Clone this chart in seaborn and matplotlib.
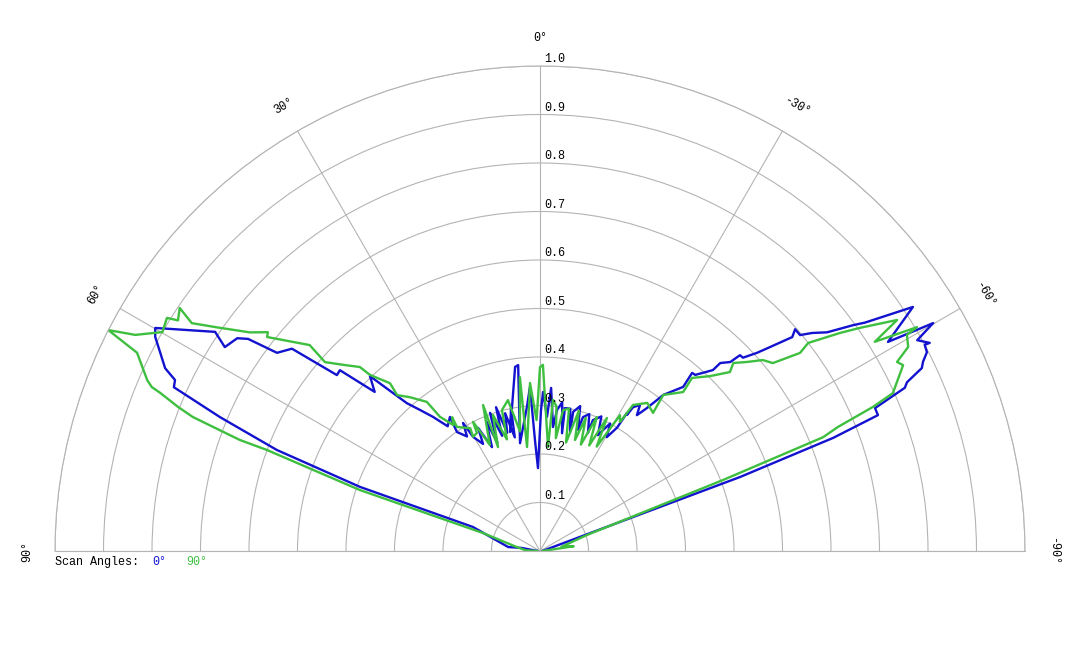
import numpy as np
import pandas as pd
import matplotlib
matplotlib.use("Agg")
import matplotlib.pyplot as plt
import matplotlib.transforms as mtransforms
import seaborn as sns

# beam pattern, angle in degrees (0 = boresight, positive to the left), normalised amplitude
blue_deg = [-89, -69.7, -68.9, -68.1, -66.9, -65.9, -65.3, -64.4, -63.7, -62.8, -61.8, -61.9,
            -60.8, -59.9, -59.0, -56.8, -54.9, -54.2, -52.7, -51.3, -50.3, -49.0, -49.7, -48.3,
            -47.6, -46.4, -45.6, -45.2, -43.8, -43.7, -41.4, -40.5, -41.1, -38.3, -36.8, -35.5,
            -34.4, -32.9, -32.6, -32.2, -32.0, -30.4, -28.8, -27.5, -26.6, -24.5, -22.0, -22.1,
            -19.8, -17.8, -17.4, -15.5, -13.4, -14.2, -12, -9.9, -10.6, -8.5, -6.9, -6.0, -3.9,
            -3.0, -1.1, -0.4, 1.4, 2.6, 3.5, 5.2, 10.5, 6.7, 7.7, 14.1, 11.5, 12.5, 14.2, 15.5,
            17.0, 18.2, 19.9, 21.5, 22.5, 24.8, 26.7, 28.0, 30.4, 31.0, 32.5, 34.9, 33.9, 36.5,
            38.6, 40.4, 42.0, 44.2, 46.1, 47.9, 49.1, 50.8, 53.0, 54.0, 54.9, 57.1, 56.0, 58.9,
            59.9, 60.9, 64.0, 64.9, 65.9, 67.3, 69.0, 70.4, 70.3, 82.9, 80.5, 89.5]
blue_amp = [0.005, 0.44, 0.648, 0.751, 0.751, 0.824, 0.833, 0.873, 0.881, 0.897, 0.900, 0.911,
            0.891, 0.937, 0.837, 0.919, 0.819, 0.796, 0.744, 0.719, 0.697, 0.697, 0.682, 0.629,
            0.606, 0.578, 0.577, 0.553, 0.537, 0.516, 0.484, 0.483, 0.449, 0.410, 0.368, 0.344,
            0.365, 0.353, 0.333, 0.336, 0.300, 0.272, 0.300, 0.281, 0.267, 0.305, 0.291, 0.263,
            0.300, 0.290, 0.262, 0.310, 0.295, 0.253, 0.300, 0.299, 0.247, 0.310, 0.293, 0.257, 0.337,
            0.277, 0.328, 0.290, 0.171, 0.229, 0.339, 0.298, 0.226, 0.386, 0.383, 0.253, 0.300, 0.240,
            0.293, 0.253, 0.310, 0.250, 0.303, 0.240, 0.290, 0.236, 0.284, 0.250, 0.273, 0.308,
            0.280, 0.299, 0.333, 0.320, 0.354, 0.382, 0.410, 0.503, 0.473, 0.556, 0.554, 0.660,
            0.679, 0.744, 0.763, 0.774, 0.808, 0.886, 0.917, 0.908, 0.860, 0.831, 0.827, 0.715,
            0.581, 0.394, 0.147, 0.066, 0.038, 0.005]

green_deg = [-89.5, -82, -79, -71.2, -68.8, -68.1, -67.4, -66.6, -65.9, -62.9, -62.1, -61.0,
             -59.5, -59.3, -58.0, -57.1, -55.1, -54.0, -52.2, -52.7, -51.1, -49.4, -47.6, -45.8,
             -46.7, -44.2, -41.3, -42.0, -38.3, -39.3, -35.9, -32.5, -31.8, -30.5, -28.5, -26.7,
             -25, -23, -21, -19, -17.5, -15.5, -13.5, -11.5, -9.3, -8.0, -6.5, -4.9, -4.4, -0.9,
             0.0, 1.5, 3.4, 7.1, 6.6, 9.5, 12.0, 15.1, 16.5, 19.1, 22.0, 21.3, 25.3, 27.4, 28.1,
             30.4, 29.6, 33.8, 33.3, 34.5, 36.7, 37.2, 40.2, 42.5, 41.8, 44.0, 44.4, 46.4, 48.7,
             48.2, 51.9, 51.2, 53.0, 55.3, 56.8, 56.0, 57.5, 58.0, 59.9, 61.9, 62.9, 63.8, 66.5,
             67.1, 67.4, 68.3, 68.9, 69.7, 69.7, 71.3, 72.5, 80, 87, 89.5]
green_amp = [0.005, 0.07, 0.045, 0.102, 0.405, 0.629, 0.665, 0.748, 0.797, 0.841, 0.833, 0.868,
             0.878, 0.904, 0.814, 0.877, 0.804, 0.765, 0.700, 0.674, 0.617, 0.605, 0.578, 0.556,
             0.538, 0.503, 0.475, 0.441, 0.410, 0.368, 0.377, 0.357, 0.313, 0.325, 0.245, 0.307,
             0.240, 0.300, 0.235, 0.290, 0.240, 0.300, 0.230, 0.300, 0.294, 0.235, 0.300, 0.313,
             0.215, 0.384, 0.379, 0.270, 0.347, 0.216, 0.361, 0.250, 0.318, 0.301, 0.240, 0.297,
             0.231, 0.323, 0.242, 0.300, 0.276, 0.273, 0.291, 0.308, 0.330, 0.315, 0.345, 0.386,
             0.415, 0.436, 0.464, 0.505, 0.531, 0.556, 0.590, 0.637, 0.715, 0.720, 0.749, 0.810,
             0.858, 0.896, 0.885, 0.907, 0.900, 0.946, 1.000, 0.926, 0.883, 0.869, 0.848, 0.803,
             0.767, 0.660, 0.600, 0.392, 0.123, 0.050, 0.030, 0.005]

scan_names = ["0°", "90°"]
scan_colors = ["#1212cf", "#3fbf3f"]
ring_values = [0.1, 0.2, 0.3, 0.4, 0.5, 0.6, 0.7, 0.8, 0.9, 1.0]
ring_labels = ["0.1", "0.2", "0.3", "0.4", "0.5", "0.6", "0.7", "0.8", "0.9", "1.0"]
angle_ticks = [-90, -60, -30, 0, 30, 60, 90]
angle_labels = ["-90°", "-60°", "-30°", "0°", "30°", "60°", "90°"]

df = pd.concat([
    pd.DataFrame({"deg": blue_deg, "amp": blue_amp, "scan": scan_names[0]}),
    pd.DataFrame({"deg": green_deg, "amp": green_amp, "scan": scan_names[1]}),
], ignore_index=True)
df["theta"] = np.deg2rad(df["deg"])

sns.set_theme(style="white")
plt.rcParams["font.family"] = ["Liberation Mono", "DejaVu Sans Mono"]

W, H = 1080, 648
cx, cy, R = 540, 551, 485  # centre and radius of the half disc, in pixels from top-left

fig = plt.figure(figsize=(W / 100, H / 100), dpi=100)
# the half wedge sits in the middle of a square box, so the box is 2R on a side
side = 2 * R
ax = fig.add_axes([(cx - R) / W, (H - cy - R / 2) / H, side / W, side / H], projection="polar")

sns.lineplot(data=df, x="theta", y="amp", hue="scan", hue_order=scan_names,
             palette=scan_colors, sort=False, estimator=None, legend=False,
             linewidth=1.7, ax=ax)

ax.set_theta_zero_location("N")
ax.set_theta_direction(1)
ax.set_thetamin(-90)
ax.set_thetamax(90)
ax.set_ylim(0, 1)
ax.set_xlabel("")
ax.set_ylabel("")

grid_col = "#b4b4b4"
ax.set_xticks(np.deg2rad(angle_ticks))
ax.set_xticklabels([])
ax.set_yticks(ring_values)
ax.set_yticklabels([])
ax.tick_params(length=0)
ax.grid(True, color=grid_col, linewidth=0.8)
for sp in ax.spines.values():
    sp.set_color(grid_col)
    sp.set_linewidth(0.8)

# angle labels, turned along the rim
for a, lab in zip(angle_ticks, angle_labels):
    ax.text(np.deg2rad(a), 1.058, lab, rotation=a, rotation_mode="anchor",
            ha="center", va="center", fontsize=8.5, color="black")

# ring labels up the 0 degree line
off = mtransforms.offset_copy(ax.transData, fig=fig, x=3, y=0.5, units="points")
for r, lab in zip(ring_values, ring_labels):
    ax.text(0, r, lab, transform=off, ha="left", va="bottom", fontsize=8.5, color="black")

# legend line under the plot
fig.text(55 / W, 1 - 562 / H, "Scan Angles:", ha="left", va="center", fontsize=8.5, color="black")
fig.text(152 / W, 1 - 562 / H, scan_names[0], ha="left", va="center", fontsize=8.5, color=scan_colors[0])
fig.text(186 / W, 1 - 562 / H, scan_names[1], ha="left", va="center", fontsize=8.5, color=scan_colors[1])

fig.savefig("out.png", dpi=100)
